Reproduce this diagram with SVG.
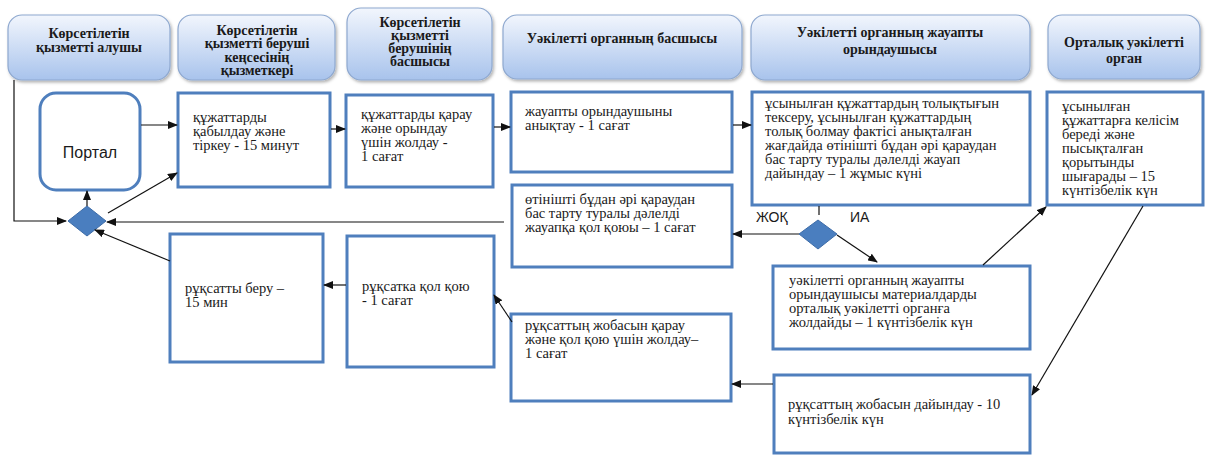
<svg xmlns="http://www.w3.org/2000/svg" width="1206" height="455" viewBox="0 0 1206 455">
<style>
.hdr{fill:url(#hg);stroke:#8ea8cf;stroke-width:1.2;filter:url(#sh)}
.ht{font-family:"Liberation Serif","DejaVu Serif",serif;font-size:14px;font-weight:bold;fill:#1a1a1a;text-anchor:middle}
.box{fill:#fff;stroke:#4f7fbd;stroke-width:3}
.bt{font-family:"Liberation Serif","DejaVu Serif",serif;font-size:14.5px;fill:#1a1a1a}
.st{font-family:"Liberation Sans","DejaVu Sans",sans-serif;fill:#1a1a1a}
.dia{fill:#4a7ebf;stroke:#3d6ca8;stroke-width:1}
.c{fill:none;stroke:#111;stroke-width:1.2}
.a{marker-end:url(#ah)}
</style>
<defs>
<linearGradient id="hg" x1="0" y1="0" x2="0" y2="1">
<stop offset="0" stop-color="#f2f6fd"/>
<stop offset="1" stop-color="#a8c3ec"/>
</linearGradient>
<filter id="sh" x="-5%" y="-5%" width="115%" height="125%">
<feDropShadow dx="1.5" dy="2" stdDeviation="1.5" flood-color="#000" flood-opacity="0.3"/>
</filter>
<marker id="ah" markerWidth="10" markerHeight="8" refX="9" refY="4" orient="auto" markerUnits="userSpaceOnUse">
<path d="M0,0 L10,4 L0,8 Z" fill="#111"/>
</marker>
</defs>
<rect width="1206" height="455" fill="#fff"/>

<g id="h1"><rect class="hdr" x="8" y="15" width="162" height="65" rx="14"/>
<text class="ht" x="89" y="38">Көрсетілетін</text><text class="ht" x="89" y="52">қызметті алушы</text></g>
<g id="h2"><rect class="hdr" x="178" y="15" width="157" height="65" rx="14"/>
<text class="ht" x="257" y="35">Көрсетілетін</text><text class="ht" x="257" y="48">қызметті беруші</text><text class="ht" x="257" y="62">кеңсесінің</text><text class="ht" x="257" y="75">қызметкері</text></g>
<g id="h3"><rect class="hdr" x="347" y="8" width="145" height="72" rx="14"/>
<text class="ht" x="420" y="27">Көрсетілетін</text><text class="ht" x="420" y="40">қызметті</text><text class="ht" x="420" y="53">берушінің</text><text class="ht" x="420" y="66">басшысы</text></g>
<g id="h4"><rect class="hdr" x="503" y="15" width="239" height="64" rx="14"/>
<text class="ht" x="622" y="43">Уәкілетті органның басшысы</text></g>
<g id="h5"><rect class="hdr" x="751" y="15" width="279" height="65" rx="14"/>
<text class="ht" x="890" y="37">Уәкілетті органның жауапты</text><text class="ht" x="890" y="54">орындаушысы</text></g>
<g id="h6"><rect class="hdr" x="1048" y="15" width="152" height="64" rx="14"/>
<text class="ht" x="1124" y="47">Орталық уәкілетті</text><text class="ht" x="1124" y="63">орган</text></g>

<g id="portal"><rect class="box" x="40" y="93" width="100" height="97" rx="16"/>
<text class="st" x="90" y="158" font-size="16" text-anchor="middle">Портал</text></g>
<g id="bA"><rect class="box" x="178" y="93" width="152" height="94"/>
<text class="bt" x="193" y="122">құжаттарды</text><text class="bt" x="193" y="136">қабылдау және</text><text class="bt" x="193" y="150">тіркеу - 15 минут</text></g>
<g id="bB"><rect class="box" x="346" y="95" width="147" height="92"/>
<text class="bt" x="361" y="119">құжаттарды қарау</text><text class="bt" x="361" y="133">және орындау</text><text class="bt" x="361" y="147">үшін жолдау -</text><text class="bt" x="361" y="161">1 сағат</text></g>
<g id="bC"><rect class="box" x="511" y="92" width="221" height="80"/>
<text class="bt" x="525" y="116">жауапты орындаушыны</text><text class="bt" x="525" y="130">анықтау - 1 сағат</text></g>
<g id="bD"><rect class="box" x="512" y="185" width="220" height="82"/>
<text class="bt" x="525" y="204">өтінішті бұдан әрі қараудан</text><text class="bt" x="525" y="218">бас тарту туралы дәлелді</text><text class="bt" x="525" y="232">жауапқа қол қоюы – 1 сағат</text></g>
<g id="bE"><rect class="box" x="752" y="92" width="278" height="113"/>
<text class="bt" x="765" y="108">ұсынылған құжаттардың толықтығын</text><text class="bt" x="765" y="122">тексеру, ұсынылған құжаттардың</text><text class="bt" x="765" y="136">толық болмау фактісі анықталған</text><text class="bt" x="765" y="150">жағдайда өтінішті бұдан әрі қараудан</text><text class="bt" x="765" y="164">бас тарту туралы дәлелді жауап</text><text class="bt" x="765" y="178">дайындау – 1 жұмыс күні</text></g>
<g id="bF"><rect class="box" x="1047" y="92" width="156" height="113"/>
<text class="bt" x="1062" y="111">ұсынылған</text><text class="bt" x="1062" y="125">құжаттарға келісім</text><text class="bt" x="1062" y="139">береді және</text><text class="bt" x="1062" y="153">пысықталған</text><text class="bt" x="1062" y="167">қорытынды</text><text class="bt" x="1062" y="181">шығарады – 15</text><text class="bt" x="1062" y="195">күнтізбелік күн</text></g>
<g id="bG"><rect class="box" x="773" y="266" width="257" height="83"/>
<text class="bt" x="789" y="285">уәкілетті органның жауапты</text><text class="bt" x="789" y="299">орындаушысы материалдарды</text><text class="bt" x="789" y="313">орталық уәкілетті органға</text><text class="bt" x="789" y="327">жолдайды –  1 күнтізбелік күн</text></g>
<g id="bH"><rect class="box" x="774" y="375" width="256" height="78"/>
<text class="bt" x="788" y="409">рұқсаттың жобасын дайындау - 10</text><text class="bt" x="788" y="424">күнтізбелік күн</text></g>
<g id="bI"><rect class="box" x="511" y="314" width="220" height="87"/>
<text class="bt" x="525" y="330">рұқсаттың жобасын қарау</text><text class="bt" x="525" y="344">және қол қою үшін жолдау–</text><text class="bt" x="525" y="358">1 сағат</text></g>
<g id="bJ"><rect class="box" x="170" y="234" width="153" height="128"/>
<text class="bt" x="185" y="293">рұқсатты беру –</text><text class="bt" x="185" y="307">15 мин</text></g>
<g id="bK"><rect class="box" x="347" y="236" width="147" height="131"/>
<text class="bt" x="362" y="291">рұқсатка қол қою</text><text class="bt" x="362" y="305">- 1 сағат</text></g>

<g id="d1"><path class="dia" d="M68,221 L87,206 L106,221 L87,236 Z"/></g>
<g id="d2"><path class="dia" d="M799,234 L818,220 L837,234 L818,249 Z"/></g>

<g id="connectors">
<line class="c a" x1="141" y1="125" x2="177" y2="125"/>
<line class="c a" x1="331" y1="129" x2="345" y2="129"/>
<line class="c a" x1="494" y1="127" x2="510" y2="127"/>
<line class="c a" x1="733" y1="125" x2="751" y2="125"/>
<line class="c" x1="819" y1="206" x2="819" y2="215"/>
<line class="c a" x1="799" y1="234" x2="733" y2="234"/>
<line class="c a" x1="837" y1="235" x2="877" y2="262"/>
<line class="c a" x1="983" y1="265" x2="1046" y2="207"/>
<line class="c a" x1="1143" y1="206" x2="1032" y2="395"/>
<line class="c a" x1="773" y1="384" x2="732" y2="384"/>
<line class="c a" x1="512" y1="322" x2="494" y2="295"/>
<line class="c a" x1="346" y1="285" x2="324" y2="285"/>
<line class="c a" x1="170" y1="261" x2="95" y2="230"/>
<line class="c a" x1="504" y1="222" x2="107" y2="222"/>
<polyline class="c a" points="14,80 14,221 66,221"/>
<line class="c a" x1="87" y1="206" x2="87" y2="191"/>
<line class="c a" x1="108" y1="213" x2="177" y2="173"/>
</g>
<g id="labels">
<text class="st" x="756" y="222" font-size="14">ЖОҚ</text>
<text class="st" x="850" y="222" font-size="14">ИА</text>
</g>
</svg>
